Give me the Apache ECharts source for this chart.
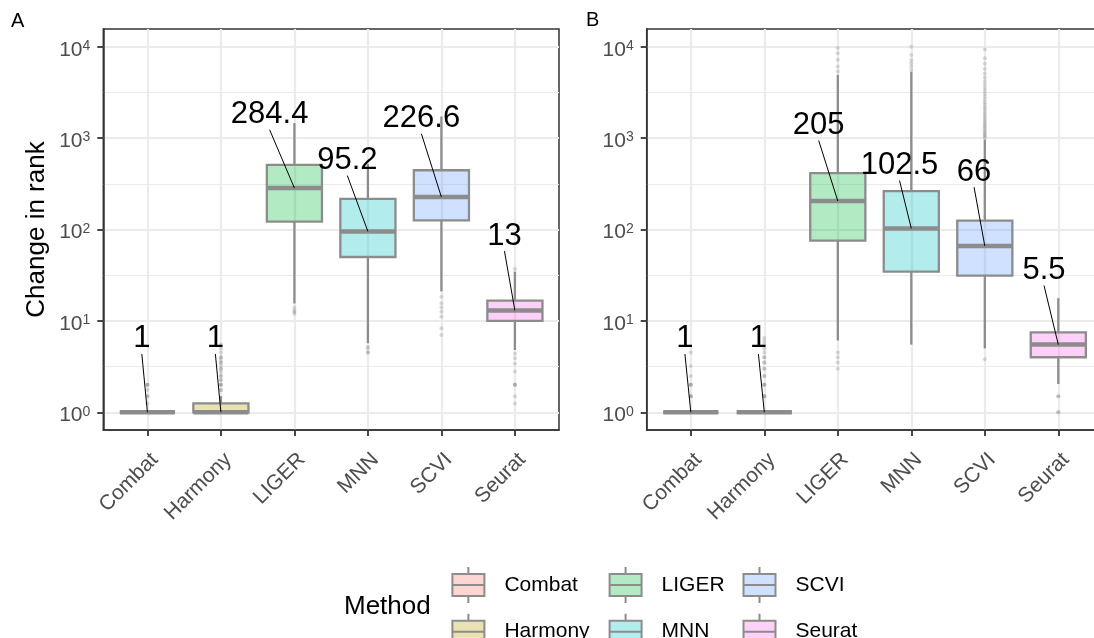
<!DOCTYPE html>
<html>
<head>
<meta charset="utf-8">
<script src="https://cdn.jsdelivr.net/npm/echarts@6/dist/echarts.min.js"></script>
<style>
  html, body { margin: 0; padding: 0; background: #fff; }
  #chart { width: 1094px; height: 638px; }
</style>
</head>
<body>
<div id="chart"></div>
<script>
// methods on the x axis, in plot order
const methods = ['Combat', 'Harmony', 'LIGER', 'MNN', 'SCVI', 'Seurat'];
const methodColors = ['#F8766D', '#B79F00', '#00BA38', '#00BFC4', '#619CFF', '#F564E3'];

// x ticks sit on the categories, y ticks are powers of ten (exponents)
const xTicks = [0, 1, 2, 3, 4, 5];
const yTicks = [0, 1, 2, 3, 4];
const yMinorTicks = [0.5, 1.5, 2.5, 3.5];

// panel A : box stats, change in rank
const lowA  = [1, 1,    15.5, 5.7,  21,    4.8];
const q1A   = [1, 1,    122,  50,   126,   10];
const medA  = [1, 1,    284.4, 95.2, 226.6, 13];
const q3A   = [1, 1.25, 510,  216,  445,   16.7];
const highA = [1, 1.5,  1460, 520,  1725,  34.6];
const outliersA = [
  [1.25, 1.5, 1.5, 1.75, 2, 2, 2],
  [1.75, 1.75, 2, 2, 2, 2.25, 2.25, 2.5, 2.5, 2.75, 3, 3, 3.25, 3.5, 3.5, 3.75, 4, 4, 4.5, 5, 5.5],
  [12, 12.5, 13, 14],
  [4.5, 4.5, 5, 5.2],
  [7, 8.3, 11.1, 12.6, 14, 15.6, 18.4],
  [37, 1.25, 1.5, 2, 2, 2, 2.8, 3.4, 3.9, 4.4]
];

// panel B : box stats, change in rank
const lowB  = [1, 1, 6.1,  5.5,   5,   2.04];
const q1B   = [1, 1, 75.7, 34.6,  31.3, 4];
const medB  = [1, 1, 205,  102.5, 66,   5.5];
const q3B   = [1, 1, 414,  263,   125,  7.5];
const highB = [1, 1, 4930, 5330,  960,  17.7];
const outliersB = [
  [1.5, 1.5, 1.5, 2, 2, 2, 2.5, 3.2, 4.5],
  [1.5, 1.5, 1.5, 2, 2, 2, 2.5, 2.5, 3, 3, 3.5, 3.5, 4, 4, 4.5, 5, 5.5, 6, 6.5],
  [3, 3.5, 4, 4.5, 5370, 6080, 7200, 8500, 9670],
  [5560, 6060, 6600, 7160, 8100, 10000],
  [3.8, 1000, 1040, 1080, 1120, 1170, 1220, 1280, 1340, 1400, 1470, 1550, 1630, 1720, 1820,
   1930, 2050, 2180, 2320, 2470, 2650, 2850, 3050, 3300, 3550, 3850, 4200, 4600, 5100, 5700,
   6500, 7500, 9300],
  [1, 1, 1.5, 1.5]
];

// where the median labels sit: [x shift in category units, label baseline in log10 units]
const labelNudgeA = [[-0.076, 0.682], [-0.075, 0.682], [-0.337, 3.135], [-0.28, 2.634], [-0.272, 3.091], [-0.142, 1.807]];
const labelNudgeB = [[-0.08, 0.682], [-0.08, 0.682], [-0.26, 3.018], [-0.16, 2.58], [-0.146, 2.507], [-0.194, 1.43]];

const FONT = '"Liberation Sans", Arial, Helvetica, sans-serif';
const EDGE = '#8c8c8c';
const GRID_LINE = '#ebebeb';
const FRAME = '#333333';
const Y_MIN = -0.194, Y_MAX = 4.194;
const X_MIN = -0.6, X_MAX = 5.6;
const BOX_WIDTH = 0.75;
const KEY_ICON = 'path://M0,7H32V29H0ZM0,18H32M16,0V7M16,29V36';

const log10 = v => Math.log10(v);
function fade(hex, a) {
  const n = parseInt(hex.slice(1), 16);
  return 'rgba(' + (n >> 16) + ',' + ((n >> 8) & 255) + ',' + (n & 255) + ',' + a + ')';
}

const panels = [
  { tag: 'A', low: lowA, q1: q1A, med: medA, q3: q3A, high: highA, out: outliersA, nudge: labelNudgeA, left: 103.3 },
  { tag: 'B', low: lowB, q1: q1B, med: medB, q3: q3B, high: highB, out: outliersB, nudge: labelNudgeB, left: 646.7 }
];

function renderBox(params, api) {
  const xi = api.value(0);
  const at = v => api.coord([xi, v]);
  const half = api.size([1, 0])[0] * BOX_WIDTH / 2;
  const lo = at(api.value(1)), q1 = at(api.value(2)), md = at(api.value(3)),
        q3 = at(api.value(4)), hi = at(api.value(5));
  const x = md[0];
  const line = { stroke: EDGE, lineWidth: 2.3 };
  return {
    type: 'group',
    children: [
      { type: 'line', shape: { x1: x, y1: q1[1], x2: x, y2: lo[1] }, style: line },
      { type: 'line', shape: { x1: x, y1: q3[1], x2: x, y2: hi[1] }, style: line },
      { type: 'rect', shape: { x: x - half, y: q3[1], width: half * 2, height: q1[1] - q3[1] },
        style: { fill: api.visual('color'), stroke: EDGE, lineWidth: 2.3 } },
      { type: 'line', shape: { x1: x - half, y1: md[1], x2: x + half, y2: md[1] },
        style: { stroke: EDGE, lineWidth: 4.5 } }
    ]
  };
}

function makeLabelRender(p) {
  return function (params, api) {
    const m = api.value(0);
    const nd = p.nudge[params.dataIndex];
    const target = api.coord([m, api.value(1)]);
    const anchor = api.coord([m + nd[0], nd[1]]);
    return {
      type: 'group',
      children: [
        { type: 'line', shape: { x1: anchor[0], y1: anchor[1] + 4, x2: target[0], y2: target[1] },
          style: { stroke: '#000', lineWidth: 1 } },
        { type: 'text', x: anchor[0], y: anchor[1] - 11,
          style: { text: String(p.med[m]), fontSize: 31, fontFamily: FONT, fill: '#000',
                   align: 'center', verticalAlign: 'middle' } }
      ]
    };
  };
}

const grids = [], xAxes = [], yAxes = [], series = [];
panels.forEach((p, i) => {
  grids.push({
    left: p.left, top: 29, width: 455.7, height: 401,
    show: true, borderColor: FRAME, borderWidth: 1.5, backgroundColor: 'transparent',
    containLabel: false, outerBoundsMode: 'none'
  });
  xAxes.push({
    type: 'value', gridIndex: i, min: X_MIN, max: X_MAX, position: 'bottom',
    axisLine: { show: true, onZero: false, lineStyle: { color: FRAME, width: 1.5 } },
    axisTick: { show: true, inside: false, length: 6, customValues: xTicks, lineStyle: { color: FRAME, width: 1.8 } },
    axisLabel: {
      customValues: xTicks,
      formatter: v => methods[Math.round(v)],
      rotate: 45, align: 'right', verticalAlign: 'top', margin: 19, padding: 0,
      fontSize: 21, color: '#4d4d4d', fontFamily: FONT
    },
    splitLine: { show: true, lineStyle: { color: GRID_LINE, width: 2.2 } }
  });
  yAxes.push({
    type: 'value', gridIndex: i, min: Y_MIN, max: Y_MAX, position: 'left',
    name: i === 0 ? 'Change in rank' : '',
    nameLocation: 'middle', nameGap: 53,
    nameTextStyle: { fontSize: 26, color: '#000', fontFamily: FONT },
    axisLine: { show: true, onZero: false, lineStyle: { color: FRAME, width: 1.5 } },
    axisTick: { show: true, inside: false, length: 6, customValues: yTicks, lineStyle: { color: FRAME, width: 1.8 } },
    axisLabel: {
      customValues: yTicks, margin: 13, padding: [6, 0, 0, 0],
      formatter: v => '{b|10}{s|' + Math.round(v) + '}',
      rich: {
        b: { fontSize: 21, lineHeight: 21, color: '#4d4d4d', fontFamily: FONT },
        s: { fontSize: 14, lineHeight: 14, verticalAlign: 'top', color: '#4d4d4d', fontFamily: FONT }
      }
    },
    splitLine: { show: true, lineStyle: { color: GRID_LINE, width: 2.2 } }
  });
  // second y axis on the same grid, only for the half-decade grid lines
  yAxes.push({
    type: 'value', gridIndex: i, min: Y_MIN, max: Y_MAX, position: 'right',
    axisLine: { show: false, onZero: false },
    axisTick: { show: false, customValues: yMinorTicks },
    axisLabel: { show: false, customValues: yMinorTicks },
    splitLine: { show: true, lineStyle: { color: GRID_LINE, width: 1.1 } }
  });

  methods.forEach((name, m) => {
    series.push({
      type: 'custom', name: name, xAxisIndex: i, yAxisIndex: 2 * i, z: 3,
      itemStyle: { color: fade(methodColors[m], 0.3) },
      encode: { x: 0, y: [1, 2, 3, 4, 5] },
      data: [[m, log10(p.low[m]), log10(p.q1[m]), log10(p.med[m]), log10(p.q3[m]), log10(p.high[m])]],
      renderItem: renderBox
    });
  });
  methods.forEach((name, m) => {
    series.push({
      type: 'scatter', name: name, xAxisIndex: i, yAxisIndex: 2 * i, z: 2,
      symbolSize: 4, itemStyle: { color: 'rgba(127,127,127,0.35)' },
      data: p.out[m].map(v => [m, log10(v)])
    });
  });
  series.push({
    type: 'custom', name: 'labels' + p.tag, xAxisIndex: i, yAxisIndex: 2 * i, z: 5,
    encode: { x: 0, y: 1 },
    data: methods.map((_, m) => [m, log10(p.med[m])]),
    renderItem: makeLabelRender(p)
  });
});

const legendCols = [[0, 1], [2, 3], [4, 5]];
const legendLeft = [451.4, 608.6, 742.5];
const legends = legendCols.map((col, k) => ({
  data: col.map(i => methods[i]),
  orient: 'vertical', left: legendLeft[k], top: 566, height: 120, padding: 0,
  itemWidth: 32, itemHeight: 36, itemGap: 8.7,
  icon: KEY_ICON, selectedMode: false,
  itemStyle: { borderColor: EDGE, borderWidth: 2 },
  textStyle: { fontSize: 21, color: '#000', fontFamily: FONT, padding: [0, 0, 0, 15] }
}));

const chart = echarts.init(document.getElementById('chart'));
chart.setOption({
  animation: false,
  backgroundColor: '#fff',
  textStyle: { fontFamily: FONT },
  grid: grids,
  xAxis: xAxes,
  yAxis: yAxes,
  legend: legends,
  graphic: [
    { type: 'text', left: 11, top: 11, style: { text: 'A', fontSize: 20, fill: '#000', fontFamily: FONT } },
    { type: 'text', left: 586, top: 10, style: { text: 'B', fontSize: 20, fill: '#000', fontFamily: FONT } },
    { type: 'text', left: 344, top: 594, style: { text: 'Method', fontSize: 26, fill: '#000', fontFamily: FONT } }
  ],
  series: series
});
</script>
</body>
</html>
